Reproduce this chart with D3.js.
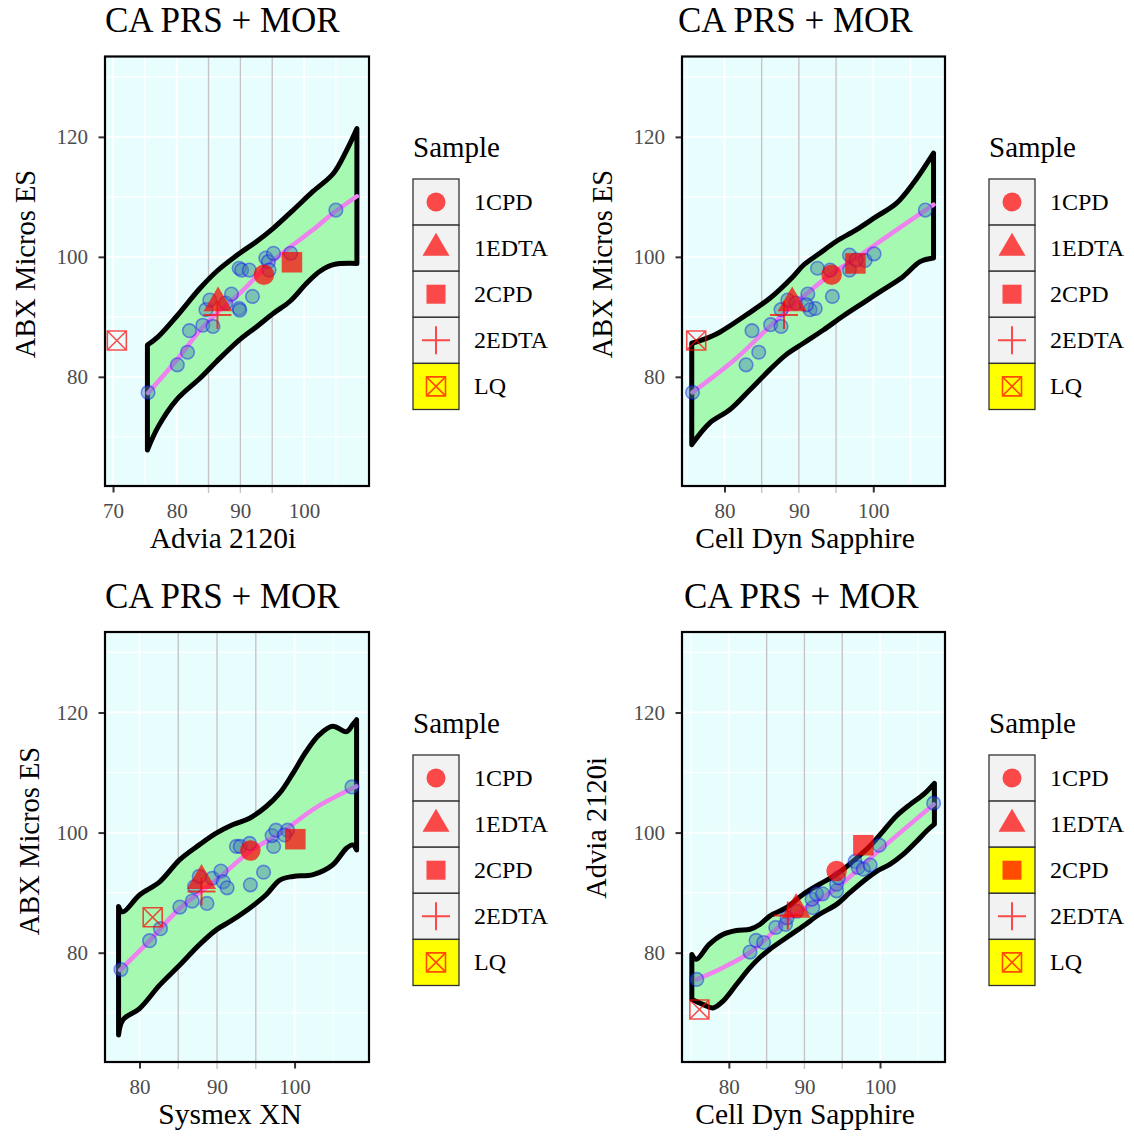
<!DOCTYPE html>
<html>
<head>
<meta charset="utf-8">
<script src="https://cdn.jsdelivr.net/npm/d3@7"></script>
<style>
  body { margin: 0; background: #fff; }
  svg { display: block; }
</style>
</head>
<body>
<svg id="chart" width="1134" height="1137"></svg>
<script>
// ---- data ----
var sampleNames = ["1CPD", "1EDTA", "2CPD", "2EDTA", "LQ"];
var plotTitle = "CA PRS + MOR";
var xTitles = ["Advia 2120i", "Cell Dyn Sapphire", "Sysmex XN", "Cell Dyn Sapphire"];
var yTitles = ["ABX Micros ES", "ABX Micros ES", "ABX Micros ES", "Advia 2120i"];
var yTicks = [80, 100, 120];
var xTicksA = [70, 80, 90, 100];
var xTicksB = [80, 90, 100];
var refLines = [85, 90, 95];

// blue points, [x, y]
var ptsAdvia = [[75.5,77.4],[80.1,82.0],[81.7,84.1],[82.0,87.7],[84.1,88.6],[85.7,88.4],[84.6,91.2],[85.2,92.8],[87.7,92.3],[88.6,93.8],[89.8,91.4],[89.9,91.1],[91.9,93.4],[89.8,98.1],[90.2,97.8],[91.4,97.8],[94.0,99.8],[94.4,99.2],[95.2,100.6],[94.5,97.8],[97.9,100.6],[105.0,107.8]];
var ptsCellDyn = [[75.7,77.4],[82.9,82.0],[84.6,84.1],[83.7,87.7],[86.2,88.7],[87.6,88.4],[87.6,91.2],[88.5,92.8],[89.6,92.3],[91.2,93.8],[91.5,91.2],[92.2,91.4],[91.0,92.0],[94.5,93.4],[92.5,98.1],[94.2,97.8],[96.8,100.3],[96.8,97.8],[98.9,99.4],[100.1,100.5],[97.7,99.5],[107.0,107.8]];
var ptsSysmex = [[77.6,77.2],[81.3,82.0],[82.7,84.0],[85.2,87.6],[86.8,88.6],[88.7,88.2],[87.1,91.0],[87.7,92.7],[89.4,92.4],[90.5,93.6],[90.8,91.8],[91.3,90.8],[94.3,91.3],[96.0,93.4],[92.5,97.7],[93.0,97.7],[94.2,98.2],[97.3,97.7],[97.1,99.5],[97.6,100.4],[99.1,100.4],[98.7,99.6],[107.4,107.6]];
var ptsCdAdvia = [[75.75,75.55],[82.8,80.1],[83.6,82.05],[84.6,81.7],[86.2,84.2],[87.5,84.7],[87.7,85.8],[89.0,86.9],[91.1,87.5],[91.0,88.9],[91.6,89.8],[92.4,89.8],[94.25,90.3],[94.25,91.4],[94.5,92.5],[96.7,95.2],[97.1,94.2],[97.8,93.9],[98.7,94.6],[99.9,97.9],[107.1,104.9]];

// labelled samples, in sampleNames order
var mkAdvia = [[93.7,97.0],[86.5,92.3],[98.1,99.1],[86.4,90.3],[70.6,86.05]];
var mkCellDyn = [[94.4,97.0],[89.1,92.3],[97.6,98.9],[88.0,90.3],[76.2,86.05]];
var mkSysmex = [[94.3,97.0],[88.0,92.0],[100.1,98.9],[88.0,90.2],[81.7,85.9]];
var mkCdAdvia = [[94.25,93.6],[88.9,87.2],[97.8,97.9],[87.8,86.2],[76.1,70.55]];

// smooth fits
var fitAdvia = [[75.5,77.3],[80.0,82.8],[83.7,87.8],[86.3,90.6],[89.9,93.9],[94.1,98.4],[97.3,101.2],[101.4,104.5],[104.6,107.3],[108.3,110.1]];
var fitCellDyn = [[75.7,77.4],[81.6,83.1],[86.1,88.4],[90.6,93.4],[94.2,97.0],[97.7,99.8],[102.2,103.7],[108.1,108.7]];
var fitSysmex = [[77.5,77.1],[81.3,82.0],[85.2,87.4],[89.9,92.1],[94.2,96.8],[98.5,100.2],[102.8,104.2],[108.0,107.7]];
var fitCdAdvia = [[75.75,75.55],[79.2,77.5],[82.8,80.05],[87.6,85.3],[94.25,90.8],[99.6,96.7],[107.1,104.7]];

// prediction bands
var upAdvia = [[75.4,85.3],[77.1,86.7],[80.0,90.1],[83.7,94.8],[86.3,97.6],[89.9,100.6],[92.6,102.6],[95.2,104.8],[98.3,107.8],[101.4,110.9],[104.6,113.9],[106.7,117.8],[108.3,121.4]];
var loAdvia = [[75.4,67.8],[77.1,71.7],[80.0,76.2],[83.7,79.8],[86.3,82.6],[89.9,86.2],[92.6,88.4],[95.2,90.6],[97.8,92.6],[100.4,95.6],[102.5,97.6],[104.6,98.7],[108.3,98.9]];
var upCellDyn = [[75.6,85.6],[77.1,86.2],[79.3,87.4],[82.9,90.3],[86.1,93.1],[89.2,96.7],[90.6,98.6],[92.8,100.6],[95.05,102.6],[97.7,104.5],[100.4,106.7],[103.1,108.9],[105.4,112.3],[108.1,117.3]];
var loCellDyn = [[75.6,68.7],[78.0,72.3],[80.7,74.5],[83.4,77.8],[86.1,81.2],[88.3,83.7],[90.6,85.6],[93.3,87.8],[95.9,90.1],[98.6,92.3],[101.3,94.5],[104.0,96.7],[106.3,99.2],[108.1,99.8]];
var upSysmex = [[77.3,87.7],[77.85,86.8],[80.0,89.6],[82.6,91.8],[85.2,95.5],[87.7,97.95],[89.9,99.9],[92.0,101.3],[94.2,102.4],[96.3,104.3],[98.1,106.6],[99.8,109.9],[101.5,113.5],[103.2,116.3],[104.9,117.7],[106.7,116.8],[107.5,118.0],[108.0,118.8]];
var loSysmex = [[77.3,66.3],[77.85,68.8],[80.0,70.7],[82.6,74.6],[85.2,77.95],[87.7,81.3],[89.9,83.8],[92.0,85.45],[94.2,87.4],[96.3,89.6],[98.1,92.1],[99.8,92.7],[102.4,93.0],[104.9,94.6],[106.7,97.4],[107.5,97.95],[108.0,97.1]];
var upCdAdvia = [[75.1,79.7],[75.7,78.9],[77.4,81.4],[79.2,83.05],[81.0,83.7],[82.8,83.9],[84.1,84.7],[85.4,86.1],[87.6,87.5],[89.8,89.7],[92.0,91.4],[94.25,93.05],[96.5,95.3],[98.7,97.8],[100.45,100.3],[102.2,102.8],[104.0,104.7],[105.8,106.4],[107.2,108.2]];
var loCdAdvia = [[75.1,72.2],[76.55,71.4],[77.9,70.8],[79.2,71.9],[81.0,74.7],[82.8,77.5],[84.1,79.2],[85.4,80.55],[87.6,82.5],[89.8,84.4],[92.0,86.4],[94.25,88.05],[96.0,90.0],[97.8,91.9],[99.6,93.6],[101.3,94.7],[103.1,96.4],[104.9,98.6],[106.2,100.3],[107.2,101.4]];

// ---- layout ----
var font = "'Liberation Serif', 'DejaVu Serif', serif";
var yDomain = [61.8, 133.4];

var panels = [
  { left: 105, top: 56.5, width: 264, height: 429.5, xDomain: [68.74, 110.2], xTicks: xTicksA, xMarks: [70],
    pts: ptsAdvia, mk: mkAdvia, fit: fitAdvia, up: upAdvia, lo: loAdvia,
    titleX: 105, xTitleX: 223, yTitleX: 35, yTitleY: 264, legendX: 413, legendY: 179, lq: ["LQ"] },
  { left: 682, top: 56.5, width: 263, height: 429.5, xDomain: [74.29, 109.64], xTicks: xTicksB, xMarks: [80, 100],
    pts: ptsCellDyn, mk: mkCellDyn, fit: fitCellDyn, up: upCellDyn, lo: loCellDyn,
    titleX: 678, xTitleX: 805, yTitleX: 612, yTitleY: 264, legendX: 989, legendY: 179, lq: ["LQ"] },
  { left: 105, top: 632, width: 264, height: 430, xDomain: [75.55, 109.6], xTicks: xTicksB, xMarks: [80, 100],
    pts: ptsSysmex, mk: mkSysmex, fit: fitSysmex, up: upSysmex, lo: loSysmex,
    titleX: 105, xTitleX: 230, yTitleX: 39, yTitleY: 841, legendX: 413, legendY: 755, lq: ["LQ"] },
  { left: 682, top: 632, width: 263, height: 430, xDomain: [73.8, 108.6], xTicks: xTicksB, xMarks: [80, 100],
    pts: ptsCdAdvia, mk: mkCdAdvia, fit: fitCdAdvia, up: upCdAdvia, lo: loCdAdvia,
    titleX: 684, xTitleX: 805, yTitleX: 606, yTitleY: 828, legendX: 989, legendY: 755, lq: ["2CPD", "LQ"] }
];
panels.forEach(function (p, i) { p.xTitle = xTitles[i]; p.yTitle = yTitles[i]; });

var svg = d3.select("#chart");
svg.append("rect").attr("width", 1134).attr("height", 1137).attr("fill", "#fff");

function drawMarker(g, type, cx, cy, big) {
  var red = "#ff0000", op = 0.7, k = big ? 1.08 : 1;
  if (type === "1CPD") {
    g.append("circle").attr("cx", cx).attr("cy", cy).attr("r", 9.5 * k)
      .attr("fill", red).attr("fill-opacity", op);
  } else if (type === "1EDTA") {
    var w = 27 * k, h = 23 * k;
    g.append("path")
      .attr("d", "M" + cx + "," + (cy - h * 2 / 3) + "L" + (cx + w / 2) + "," + (cy + h / 3) + "L" + (cx - w / 2) + "," + (cy + h / 3) + "Z")
      .attr("fill", red).attr("fill-opacity", op);
  } else if (type === "2CPD") {
    var q = 9.5 * k;
    g.append("rect").attr("x", cx - q).attr("y", cy - q).attr("width", 2 * q).attr("height", 2 * q)
      .attr("fill", red).attr("fill-opacity", op);
  } else if (type === "2EDTA") {
    g.append("path")
      .attr("d", "M" + (cx - 14) + "," + cy + "H" + (cx + 14) + "M" + cx + "," + (cy - 14) + "V" + (cy + 14))
      .attr("stroke", red).attr("stroke-opacity", op).attr("stroke-width", 2).attr("fill", "none");
  } else {
    var s = 9.5;
    g.append("path")
      .attr("d", "M" + (cx - s) + "," + (cy - s) + "H" + (cx + s) + "V" + (cy + s) + "H" + (cx - s) + "Z" +
        "M" + (cx - s) + "," + (cy - s) + "L" + (cx + s) + "," + (cy + s) +
        "M" + (cx + s) + "," + (cy - s) + "L" + (cx - s) + "," + (cy + s))
      .attr("stroke", red).attr("stroke-opacity", op).attr("stroke-width", 1.6).attr("fill", "none");
  }
}

function minorOf(major, domain) {
  var step = major[1] - major[0], out = [];
  for (var v = major[0] - step / 2; v <= domain[1]; v += step) {
    if (v >= domain[0]) out.push(v);
  }
  return out;
}

panels.forEach(function (p) {
  var g = svg.append("g");
  var x = d3.scaleLinear().domain(p.xDomain).range([p.left, p.left + p.width]);
  var y = d3.scaleLinear().domain(yDomain).range([p.top + p.height, p.top]);
  var bottom = p.top + p.height, right = p.left + p.width;

  g.append("rect").attr("x", p.left).attr("y", p.top).attr("width", p.width).attr("height", p.height)
    .attr("fill", "#e8fefe");

  // grid
  var xMajor = d3.range(Math.ceil(p.xDomain[0] / 10) * 10, p.xDomain[1], 10);
  var yMajor = yTicks;
  g.selectAll(".gxm").data(minorOf(xMajor, p.xDomain)).enter().append("line")
    .attr("x1", x).attr("x2", x).attr("y1", p.top).attr("y2", bottom)
    .attr("stroke", "#fff").attr("stroke-width", 1.1);
  g.selectAll(".gym").data(minorOf(yMajor, yDomain)).enter().append("line")
    .attr("x1", p.left).attr("x2", right).attr("y1", y).attr("y2", y)
    .attr("stroke", "#fff").attr("stroke-width", 1.1);
  g.selectAll(".gx").data(xMajor).enter().append("line")
    .attr("x1", x).attr("x2", x).attr("y1", p.top).attr("y2", bottom)
    .attr("stroke", "#fff").attr("stroke-width", 1.8);
  g.selectAll(".gy").data(yMajor).enter().append("line")
    .attr("x1", p.left).attr("x2", right).attr("y1", y).attr("y2", y)
    .attr("stroke", "#fff").attr("stroke-width", 1.8);

  // reference lines
  g.selectAll(".ref").data(refLines).enter().append("line")
    .attr("x1", x).attr("x2", x).attr("y1", p.top).attr("y2", bottom + 7)
    .attr("stroke", "#c4c4c4").attr("stroke-width", 1.4);

  // band
  var line = d3.line().x(function (d) { return x(d[0]); }).y(function (d) { return y(d[1]); })
    .curve(d3.curveCatmullRom.alpha(0.5));
  var upPath = line(p.up);
  var loPath = line(p.lo.slice().reverse());
  g.append("path").attr("d", upPath + "L" + loPath.slice(1) + "Z")
    .attr("fill", "#a6f9b1").attr("stroke", "#000").attr("stroke-width", 5)
    .attr("stroke-linejoin", "round").attr("stroke-linecap", "round");

  // fit
  g.append("path").attr("d", line(p.fit)).attr("fill", "none")
    .attr("stroke", "#ee82ee").attr("stroke-width", 4.5).attr("stroke-linecap", "round");

  // points
  g.selectAll(".pt").data(p.pts).enter().append("circle")
    .attr("cx", function (d) { return x(d[0]); }).attr("cy", function (d) { return y(d[1]); })
    .attr("r", 6.8).attr("fill", "#4682b4").attr("fill-opacity", 0.45)
    .attr("stroke", "#0000ff").attr("stroke-opacity", 0.4).attr("stroke-width", 1.6);

  // labelled samples
  p.mk.forEach(function (d, k) { drawMarker(g, sampleNames[k], x(d[0]), y(d[1]), true); });

  // border
  g.append("rect").attr("x", p.left).attr("y", p.top).attr("width", p.width).attr("height", p.height)
    .attr("fill", "none").attr("stroke", "#000").attr("stroke-width", 2.2);

  // axes
  var ax = g.append("g").attr("transform", "translate(0," + bottom + ")")
    .call(d3.axisBottom(x).tickValues(p.xTicks).tickSize(0).tickPadding(17).tickFormat(d3.format("d")));
  ax.select(".domain").remove();
  ax.selectAll("text").attr("font-family", font).attr("font-size", 21).attr("fill", "#4d4d4d");
  var axm = g.append("g").attr("transform", "translate(0," + (bottom + 1) + ")")
    .call(d3.axisBottom(x).tickValues(p.xMarks).tickSize(5.5).tickFormat(""));
  axm.select(".domain").remove();
  axm.selectAll("line").attr("stroke", "#333").attr("stroke-width", 2);

  var ay = g.append("g").attr("transform", "translate(" + p.left + ",0)")
    .call(d3.axisLeft(y).tickValues(yTicks).tickSize(0).tickPadding(17).tickFormat(d3.format("d")));
  ay.select(".domain").remove();
  ay.selectAll("text").attr("font-family", font).attr("font-size", 21).attr("fill", "#4d4d4d");
  var aym = g.append("g").attr("transform", "translate(" + (p.left - 1) + ",0)")
    .call(d3.axisLeft(y).tickValues(yTicks).tickSize(5.5).tickFormat(""));
  aym.select(".domain").remove();
  aym.selectAll("line").attr("stroke", "#333").attr("stroke-width", 2);

  // titles
  g.append("text").attr("x", p.titleX).attr("y", p.top - 24.5)
    .attr("font-family", font).attr("font-size", 35).attr("fill", "#000").text(plotTitle);
  g.append("text").attr("x", p.xTitleX).attr("y", bottom + 62).attr("text-anchor", "middle")
    .attr("font-family", font).attr("font-size", 29.5).attr("fill", "#000").text(p.xTitle);
  g.append("text").attr("transform", "translate(" + p.yTitleX + "," + p.yTitleY + ") rotate(-90)")
    .attr("text-anchor", "middle")
    .attr("font-family", font).attr("font-size", 28.5).attr("fill", "#000").text(p.yTitle);

  // legend
  var lg = svg.append("g").attr("transform", "translate(" + p.legendX + "," + p.legendY + ")");
  lg.append("text").attr("x", 0).attr("y", -22).attr("font-family", font).attr("font-size", 29)
    .attr("fill", "#000").text("Sample");
  sampleNames.forEach(function (name, k) {
    var ky = k * 46.1;
    lg.append("rect").attr("x", 0).attr("y", ky).attr("width", 46).attr("height", 46.1)
      .attr("fill", p.lq.indexOf(name) >= 0 ? "#ffff00" : "#f2f2f2")
      .attr("stroke", "#333").attr("stroke-width", 1.3);
    drawMarker(lg, name, 23, ky + 23, false);
    lg.append("text").attr("x", 61).attr("y", ky + 31).attr("font-family", font).attr("font-size", 24)
      .attr("fill", "#000").text(name);
  });
});
</script>
</body>
</html>
